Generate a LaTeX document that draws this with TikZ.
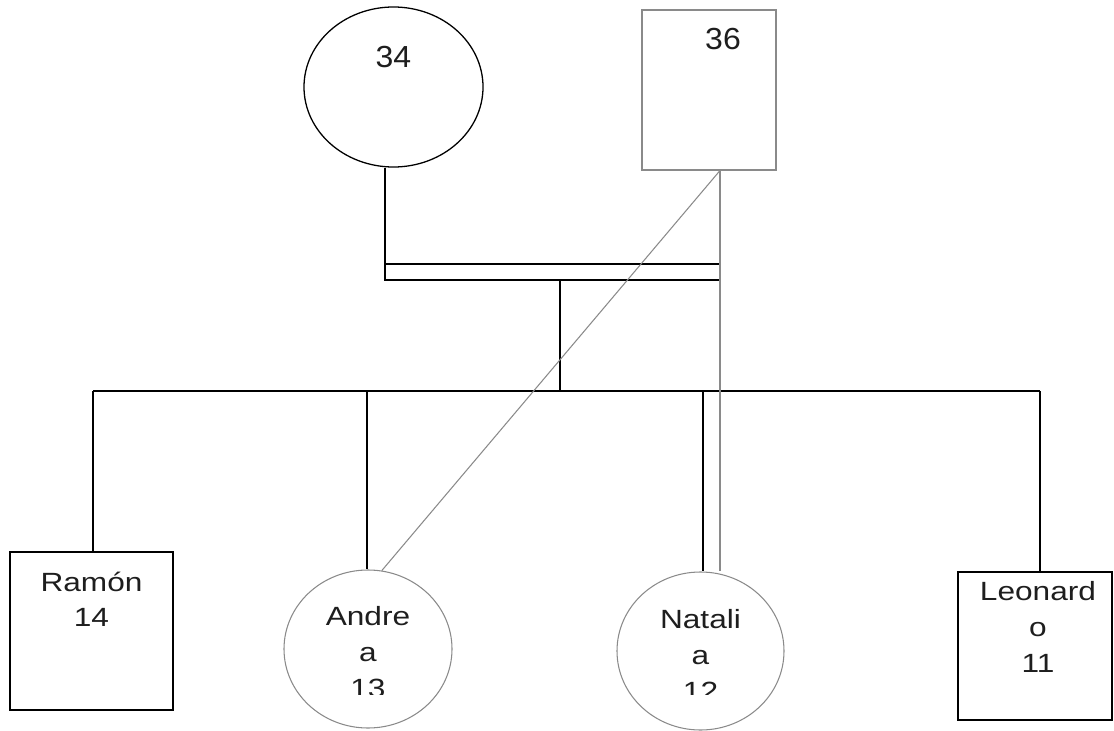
\documentclass[tikz,border=0pt]{standalone}
\usepackage{fontspec}
\usetikzlibrary{shapes.geometric,positioning}
\newfontfamily\parentfont[FakeStretch=1.05]{Liberation Sans}
\newfontfamily\kidfont[FakeStretch=1.2]{Liberation Sans}
\definecolor{mygray}{HTML}{8A8A8A}
\definecolor{mydarkgray}{HTML}{1E1E1E}

\begin{document}
\begin{tikzpicture}[x=0.03cm,y=-0.03cm]
	\tikzset{% This is the style settings for nodes and lines
		femalenode/.style={ellipse,draw=black,line width=1.1pt,inner sep=0pt},
		malenode/.style={rectangle,draw=black,line width=1.1pt,inner sep=0pt},
		graynode/.style={draw=mygray,line width=0.9pt},
		parenttext/.style={font=\parentfont\fontsize{26}{31}\selectfont,text=mydarkgray,inner sep=0pt},
		kidtext/.style={font=\kidfont\fontsize{22.5}{30.7}\selectfont,text=mydarkgray,inner sep=0pt,align=center},
		blackline/.style={line width=1.1pt},
		grayline/.style={draw=mygray,line width=0.9pt}}
	\useasboundingbox (0,0) rectangle (1114,731);

	% parents
	\node[femalenode,minimum width=5.37cm,minimum height=4.8cm] (0) at (393.5,87) {};
	\node[malenode,graynode,minimum width=4.02cm,minimum height=4.8cm] (1) at (709,90) {};
	\node[parenttext,below=1.18cm of 0.north] (0t) {34};
	\node[parenttext,below=0.55cm of 1.north,xshift=0.42cm] (1t) {36};

	% children
	\node[malenode,minimum width=4.89cm,minimum height=4.74cm] (2) at (91.5,631) {};
	\node[femalenode,graynode,minimum width=5.04cm,minimum height=4.74cm] (3) at (368,649) {};
	\node[femalenode,graynode,minimum width=5.01cm,minimum height=4.74cm] (4) at (700.5,651) {};
	\node[malenode,minimum width=4.62cm,minimum height=4.44cm] (5) at (1035,646) {};
	\node[kidtext,below=0.6cm of 2.north] (2t) {Ramón\\14};
	\begin{scope}
		\clip (250,540) rectangle (800,694);
		\node[kidtext,below=1.1cm of 3.north] (3t) {Andre\\a\\13};
		\node[kidtext,below=1.12cm of 4.north] (4t) {Natali\\a\\12};
	\end{scope}
	\node[kidtext,below=0.3cm of 5.north,xshift=0.09cm] (5t) {Leonard\\o\\11};

	% junction points
	\coordinate (a) at (385,280);
	\coordinate (b) at (720,264);
	\coordinate (c) at (720,280);
	\coordinate (d) at (560,280);
	\coordinate (e) at (560,391);
	\coordinate (f) at (93,391);
	\coordinate (g) at (1040,391);
	\coordinate (h) at (367,391);
	\coordinate (k) at (703,391);

	\draw[blackline] (0.south -| a) -- (a) -- (c);
	\draw[blackline] (a |- b) -- (b);
	\draw[blackline] (d) -- (e);
	\draw[blackline] (f) -- (g);
	\draw[blackline] (f) -- (f |- 2.north);
	\draw[blackline] (h) -- (h |- 3.north);
	\draw[blackline] (k) -- (k |- 4.north);
	\draw[blackline] (g) -- (g |- 5.north);

	\draw[grayline] (1.south -| b) -- (b |- 4.north);
	\draw[grayline] (1.south -| b) -- (3.80);
\end{tikzpicture}
\end{document}
